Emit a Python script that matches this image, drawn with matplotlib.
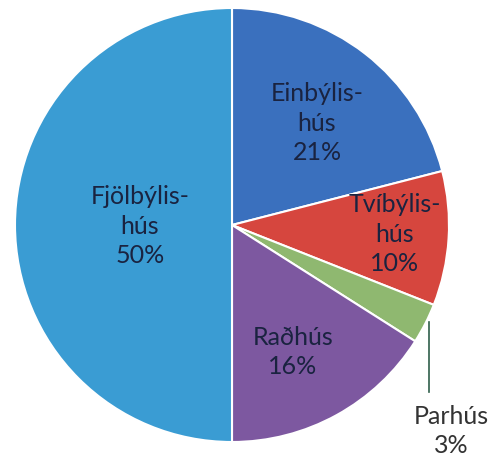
import matplotlib.pyplot as plt

# Housing types, clockwise from the top
labels = ["Einbýlis-\nhús", "Tvíbýlis-\nhús", "Parhús", "Raðhús", "Fjölbýlis-\nhús"]
shares = [21, 10, 3, 16, 50]
colors = ["#3a70be", "#d6463e", "#8fb870", "#7d58a0", "#3a9cd3"]

# Label positions in pixel coordinates of the original picture
label_px = [(317, 123), (395, 234), (451, 431), (293, 352), (140, 226)]
label_colors = ["#1a2340", "#1a2340", "#333333", "#1a2340", "#1a2340"]

W, H = 492, 460
cx, cy, r = 232, 226, 217

fig = plt.figure(figsize=(W / 100, H / 100), dpi=100)
ax = fig.add_axes([0, 0, 1, 1])

ax.pie(shares, colors=colors, startangle=90, counterclock=False, radius=1,
       wedgeprops=dict(edgecolor="white", linewidth=1.5))

# pie() resets the limits, so set them afterwards
ax.set_xlim(-cx / r, (W - cx) / r)
ax.set_ylim(-(H - cy) / r, cy / r)
ax.set_aspect("equal")
ax.axis("off")

def to_data(px, py):
    return (px - cx) / r, (cy - py) / r

for lab, val, (px, py), tc in zip(labels, shares, label_px, label_colors):
    x, y = to_data(px, py)
    ax.text(x, y, "{}\n{}%".format(lab, val), ha="center", va="center",
            fontsize=18, family="Lato", color=tc, linespacing=1.35)

# Leader line for the small Parhús slice
x0, y0 = to_data(429, 323)
x1, y1 = to_data(429, 393)
ax.plot([x0, x1], [y0, y1], color="#2f5f4a", linewidth=1.2)

fig.savefig("out.png", dpi=100, facecolor="white")
